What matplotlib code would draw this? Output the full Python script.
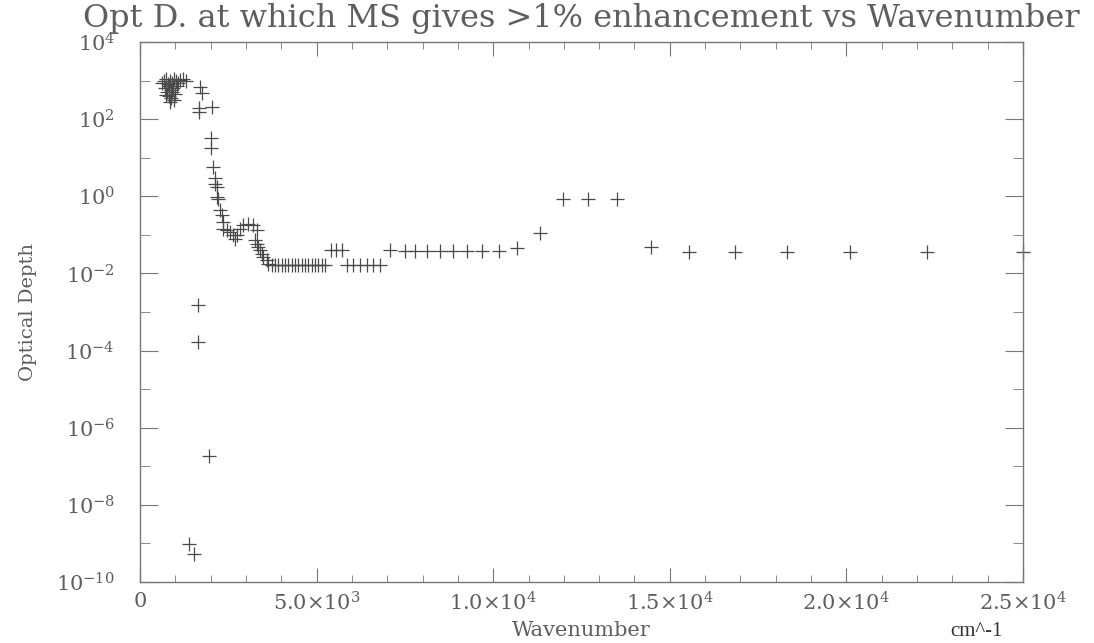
import numpy as np
import matplotlib
matplotlib.use("Agg")
import matplotlib.pyplot as plt
from matplotlib.ticker import FixedLocator, NullFormatter

plt.rcParams['font.family'] = ['DejaVu Serif']
plt.rcParams['mathtext.default'] = 'regular'

# Wavenumber (cm^-1) and optical depth at which MS gives >1% enhancement
wavenumber = [
    623, 679, 736, 793, 849, 906, 963, 1019, 1076, 1132, 1217, 1302,
    708, 764, 821, 878, 934, 991, 821, 878, 849, 906, 736, 1047, 963,
    1699, 1747, 1670, 1680, 2030,
    1633, 1633, 1950, 1400, 1530,
    2010, 2010, 2075, 2120, 2120, 2170, 2170, 2215, 2265, 2315, 2360, 2360,
    2455, 2550, 2640, 2690, 2740, 2830, 2925, 3065, 3210, 3305, 3255, 3305,
    3350, 3400, 3445, 3490, 3585, 3630,
    3730, 3820, 3915, 4010, 4105, 4200, 4290, 4385, 4480, 4575, 4670, 4765,
    4860, 4950, 5045, 5140, 5235,
    5420, 5560, 5710,
    5850, 6040, 6230, 6420, 6605, 6795,
    7080, 7500, 7790, 8120, 8490, 8870, 9250, 9680, 10160, 10670,
    11320, 11970, 12680, 13510,
    14470, 15550, 16850, 18330, 20100, 22290, 25000,
]
optical_depth = [
    891, 1000, 1122, 794, 1000, 891, 1122, 1000, 891, 1047, 1122, 1000,
    631, 501, 708, 562, 631, 447, 398, 355, 282, 501, 417, 708, 316,
    690, 480, 155, 195, 205,
    1.55e-3, 1.7e-4, 1.8e-7, 9.5e-10, 5.2e-10,
    32, 18, 5.8, 2.9, 2.1, 1.7, 0.95, 0.87, 0.44, 0.32, 0.21, 0.145,
    0.13, 0.117, 0.098, 0.079, 0.098, 0.145, 0.178, 0.195, 0.178, 0.132, 0.072, 0.059,
    0.048, 0.040, 0.032, 0.026, 0.022, 0.018,
    0.017, 0.017, 0.017, 0.017, 0.017, 0.017, 0.017, 0.017, 0.017, 0.017, 0.017, 0.017,
    0.017, 0.017, 0.017, 0.017, 0.017,
    0.040, 0.040, 0.040,
    0.017, 0.017, 0.017, 0.017, 0.017, 0.017,
    0.040, 0.038, 0.038, 0.038, 0.038, 0.038, 0.038, 0.038, 0.038, 0.045,
    0.115, 0.83, 0.83, 0.83,
    0.048, 0.037, 0.036, 0.036, 0.036, 0.036, 0.036,
]

x_ticks = [0, 5000, 10000, 15000, 20000, 25000]
x_tick_labels = ['0', r'$5.0{\times}10^{3}$', r'$1.0{\times}10^{4}$',
                 r'$1.5{\times}10^{4}$', r'$2.0{\times}10^{4}$', r'$2.5{\times}10^{4}$']
y_exponents = [4, 2, 0, -2, -4, -6, -8, -10]

ink = '#5e5e5e'

fig = plt.figure(figsize=(10.94, 6.43), dpi=100)
ax = fig.add_axes([140 / 1094, 61 / 643, 883 / 1094, 540 / 643])

ax.plot(wavenumber, optical_depth, linestyle='none', marker='+',
        markersize=10, markeredgewidth=0.9, color='#4a4a4a', clip_on=False)

ax.set_yscale('log')
ax.set_xlim(0, 25000)
ax.set_ylim(1e-10, 1e4)

ax.xaxis.set_major_locator(FixedLocator(x_ticks))
ax.set_xticklabels(x_tick_labels)
ax.xaxis.set_minor_locator(FixedLocator(np.arange(0, 25001, 1000)))

ax.yaxis.set_major_locator(FixedLocator([10.0 ** e for e in y_exponents]))
ax.set_yticklabels([r'$10^{%d}$' % e for e in y_exponents])
ax.yaxis.set_minor_locator(FixedLocator([10.0 ** e for e in range(-9, 4, 2)]))
ax.yaxis.set_minor_formatter(NullFormatter())

for side in ax.spines.values():
    side.set_color('#777777')
    side.set_linewidth(1.0)

ax.tick_params(which='both', direction='in', top=True, right=True,
               colors='#777777', labelcolor=ink, labelsize=15)
ax.tick_params(axis='x', which='major', length=10, pad=7)
ax.tick_params(axis='x', which='minor', length=5)
ax.tick_params(axis='y', which='major', length=13, pad=18)
ax.tick_params(axis='y', which='minor', length=7)

ax.set_ylabel('Optical Depth', fontsize=14, color=ink, labelpad=14)
fig.text(581 / 1094, 1 - 631 / 643, 'Wavenumber', fontsize=15, color=ink,
         ha='center', va='center')
fig.text(581 / 1094, 1 - 18 / 643,
         'Opt D. at which MS gives >1% enhancement vs Wavenumber',
         fontsize=23, color=ink, ha='center', va='center')

fig.text(950 / 1094, 1 - 631 / 643, 'cm^-1', fontsize=15, color='#333333',
         family='Liberation Serif', va='center', ha='left')

fig.savefig('out.png', dpi=100, facecolor='white')
